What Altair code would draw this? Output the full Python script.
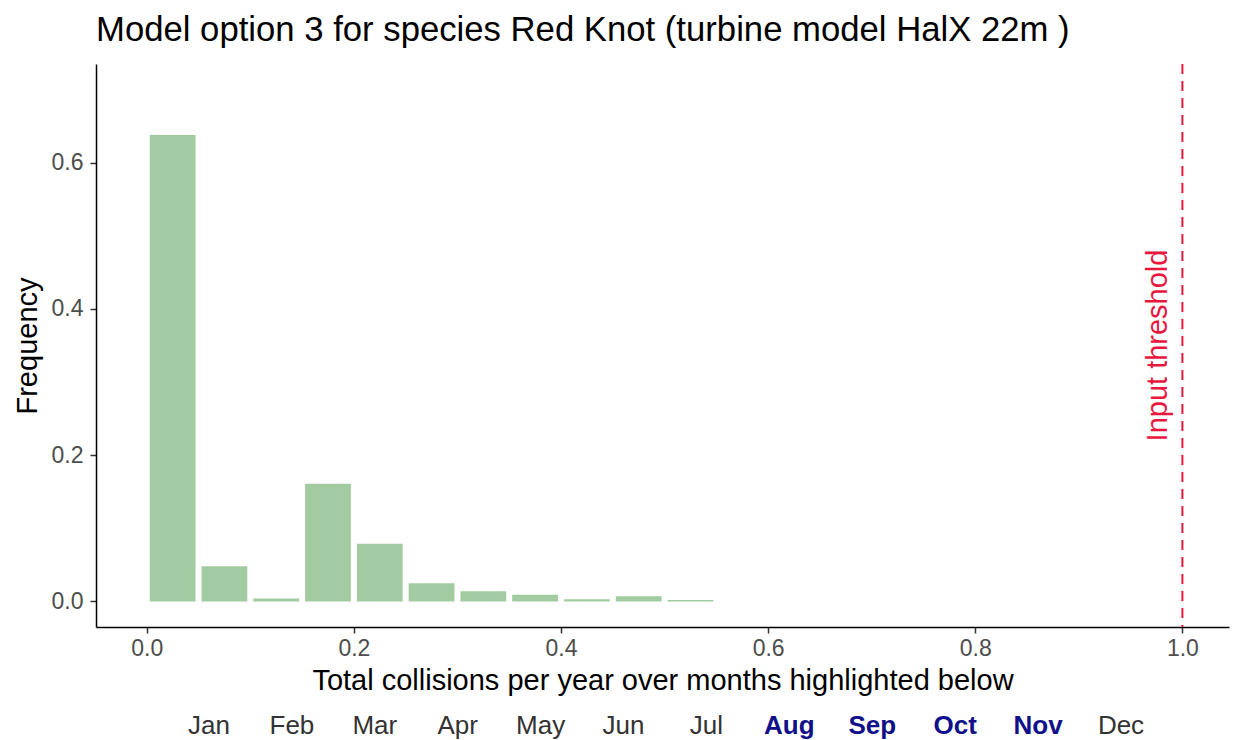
import altair as alt
import pandas as pd

# ---- data ----
bin_start = [0.00, 0.05, 0.10, 0.15, 0.20, 0.25, 0.30, 0.35, 0.40, 0.45, 0.50]
bin_end = [0.05, 0.10, 0.15, 0.20, 0.25, 0.30, 0.35, 0.40, 0.45, 0.50, 0.55]
frequency = [0.638, 0.048, 0.004, 0.161, 0.079, 0.025, 0.014, 0.009, 0.003, 0.007, 0.002]

threshold = [1.0]
threshold_label = ["Input threshold"]
threshold_label_y = [0.35]
threshold_label_x = [0.976]

months = ["Jan", "Feb", "Mar", "Apr", "May", "Jun", "Jul", "Aug", "Sep", "Oct", "Nov", "Dec"]
highlighted = [False, False, False, False, False, False, False, True, True, True, True, False]

x_ticks = [0.0, 0.2, 0.4, 0.6, 0.8, 1.0]
y_ticks = [0.0, 0.2, 0.4, 0.6]

FONT = "Liberation Sans"
RED = "#E8173D"
W, H = 1133, 563

hist_df = pd.DataFrame({"start": bin_start, "end": bin_end, "freq": frequency})
thr_df = pd.DataFrame({"x": threshold})
lab_df = pd.DataFrame({"x": threshold_label_x, "y": threshold_label_y, "t": threshold_label})
mon_df = pd.DataFrame({"m": months, "hl": highlighted})

xscale = alt.Scale(domain=[-0.049, 1.045], nice=False, zero=False)
yscale = alt.Scale(domain=[-0.035, 0.735], nice=False, zero=False)

bars = alt.Chart(hist_df).mark_bar(color="#A2CBA1", xOffset=3, x2Offset=-3).encode(
    x=alt.X("start:Q", scale=xscale,
            axis=alt.Axis(values=x_ticks, format=".1f",
                          title="Total collisions per year over months highlighted below")),
    x2="end:Q",
    y=alt.Y("freq:Q", scale=yscale,
            axis=alt.Axis(values=y_ticks, format=".1f", title="Frequency")),
    y2=alt.datum(0),
)

rule = alt.Chart(thr_df).mark_rule(color=RED, strokeWidth=2, strokeDash=[10, 7]).encode(
    x=alt.X("x:Q", scale=xscale)
)

thr_text = alt.Chart(lab_df).mark_text(
    angle=270, color=RED, fontSize=29, font=FONT, align="center", baseline="middle"
).encode(
    x=alt.X("x:Q", scale=xscale),
    y=alt.Y("y:Q", scale=yscale),
    text="t:N",
)

# month label row: point scale spread across the lower strip
mscale = alt.Scale(type="point", range=[113, 1025], padding=0)

mon_normal = alt.Chart(mon_df).transform_filter("!datum.hl").mark_text(
    fontSize=26, font=FONT, color="#333333", baseline="alphabetic"
).encode(
    x=alt.X("m:N", sort=months, scale=mscale, axis=None),
    y=alt.value(H + 107),
    text="m:N",
)
mon_bold = alt.Chart(mon_df).transform_filter("datum.hl").mark_text(
    fontSize=26, font=FONT, color="#10108A", fontWeight="bold", baseline="alphabetic"
).encode(
    x=alt.X("m:N", sort=months, scale=mscale, axis=None),
    y=alt.value(H + 107),
    text="m:N",
)

main = alt.layer(bars, rule, thr_text)
months_layer = alt.layer(mon_normal, mon_bold)

chart = alt.layer(main, months_layer).resolve_scale(x="independent").properties(
    width=W, height=H,
    title=alt.TitleParams(
        "Model option 3 for species Red Knot (turbine model HalX 22m )",
        anchor="start", frame="group", font=FONT, fontSize=34.7,
        fontWeight="normal", color="black", offset=14,
    ),
    padding={"left": 5, "top": 5, "right": 4, "bottom": 0},
).configure_view(stroke=None).configure_axis(
    grid=False,
    domainColor="black", domainWidth=1.5,
    tickColor="#333333", tickWidth=1.5, tickSize=6,
    labelColor="#4D4D4D", labelFont=FONT, labelFontSize=23,
    titleColor="black", titleFont=FONT, titleFontSize=29, titleFontWeight="normal",
).configure_axisY(labelPadding=7, titlePadding=9).configure_axisX(labelPadding=4, titlePadding=6)

chart.save("out.html", embed_options={"renderer": "svg", "actions": False})
